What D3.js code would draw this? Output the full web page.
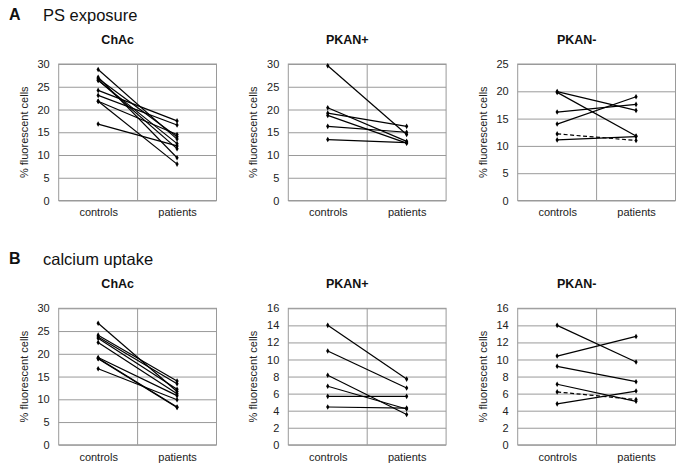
<!DOCTYPE html>
<html>
<head>
<meta charset="utf-8">
<script src="https://cdn.jsdelivr.net/npm/d3@7"></script>
<style>
  html, body { margin: 0; padding: 0; background: #fff; }
  svg { display: block; font-family: "Liberation Sans", Arial, sans-serif; }
</style>
</head>
<body>
<svg id="chart" width="683" height="471"></svg>
<script>
// ---- data ----
const groups = ["controls", "patients"];
const sectionLetters = ["A", "B"];
const sectionTitles = ["PS exposure", "calcium uptake"];
const panelTitles = ["ChAc", "PKAN+", "PKAN-"];
const yAxisLabel = "% fluorescent cells";

const ticks30 = [0, 5, 10, 15, 20, 25, 30];
const ticks25 = [0, 5, 10, 15, 20, 25];
const ticks16 = [0, 2, 4, 6, 8, 10, 12, 14, 16];

// A: PS exposure
const psChAcControls = [28.8, 27.1, 26.8, 26.5, 26.4, 24.2, 23.1, 21.8, 21.8, 16.8];
const psChAcPatients = [13.5, 9.4, 14.0, 11.4, 12.5, 17.5, 16.6, 8.0, 14.5, 12.0];
const psPkanPosControls = [29.6, 20.4, 19.2, 18.7, 16.3, 13.4];
const psPkanPosPatients = [14.5, 13.0, 16.3, 12.6, 15.0, 12.7];
const psPkanNegControls = [19.95, 19.8, 16.2, 14.0, 12.2, 11.1];
const psPkanNegPatients = [16.5, 11.8, 17.6, 19.0, 11.0, 11.7];
const psPkanNegDashed = [false, false, false, false, true, false];

// B: calcium uptake
const caChAcControls = [26.7, 24.1, 23.7, 23.4, 22.5, 19.2, 19.0, 18.9, 16.7];
const caChAcPatients = [11.7, 14.0, 13.4, 12.2, 11.2, 10.8, 8.3, 8.2, 9.9];
const caPkanPosControls = [14.0, 11.0, 8.15, 6.86, 5.68, 4.43];
const caPkanPosPatients = [7.7, 6.66, 3.56, 4.2, 5.68, 4.3];
const caPkanNegControls = [14.0, 10.4, 9.2, 7.1, 6.2, 4.8];
const caPkanNegPatients = [9.7, 12.7, 7.4, 5.1, 5.3, 6.3];
const caPkanNegDashed = [false, false, false, false, true, false];

// ---- layout ----
const svg = d3.select("#chart");
svg.append("rect").attr("width", 683).attr("height", 471).attr("fill", "#fff");

const colLefts = [58.7, 288.3, 517.7];
const rowTops = [64, 308.3];
const plotW = 157.8;
const plotH = 136.5;
const gridColor = "#9a9a9a";

const panels = [
  { row: 0, col: 0, c: psChAcControls, p: psChAcPatients, ticks: ticks30 },
  { row: 0, col: 1, c: psPkanPosControls, p: psPkanPosPatients, ticks: ticks30 },
  { row: 0, col: 2, c: psPkanNegControls, p: psPkanNegPatients, ticks: ticks25, dashed: psPkanNegDashed },
  { row: 1, col: 0, c: caChAcControls, p: caChAcPatients, ticks: ticks30 },
  { row: 1, col: 1, c: caPkanPosControls, p: caPkanPosPatients, ticks: ticks16 },
  { row: 1, col: 2, c: caPkanNegControls, p: caPkanNegPatients, ticks: ticks16, dashed: caPkanNegDashed }
];

// section headers
sectionLetters.forEach((L, i) => {
  const base = i === 0 ? 19.5 : 263.5;
  svg.append("text").attr("x", 9).attr("y", base)
    .attr("font-size", 16).attr("font-weight", "bold").attr("fill", "#111").text(L);
  svg.append("text").attr("x", 43).attr("y", base + 1)
    .attr("font-size", 16.5).attr("fill", "#111").text(sectionTitles[i]);
});

panels.forEach(pn => {
  const left = colLefts[pn.col];
  const top = rowTops[pn.row];
  const g = svg.append("g").attr("transform", `translate(${left},${top})`);
  const yMax = pn.ticks[pn.ticks.length - 1];

  const x = d3.scalePoint().domain(groups).range([0, plotW]).padding(0.5);
  const y = d3.scaleLinear().domain([0, yMax]).range([plotH, 0]);

  // horizontal gridlines
  const grid = g.append("g").call(
    d3.axisLeft(y).tickValues(pn.ticks).tickSize(-plotW).tickFormat("")
  );
  grid.select(".domain").remove();
  grid.selectAll("line").attr("stroke", gridColor).attr("stroke-width", 1);

  // middle vertical divider
  g.append("line")
    .attr("x1", plotW / 2).attr("x2", plotW / 2)
    .attr("y1", 0).attr("y2", plotH)
    .attr("stroke", gridColor).attr("stroke-width", 1);

  // border
  g.append("rect").attr("x", 0).attr("y", 0).attr("width", plotW).attr("height", plotH)
    .attr("fill", "none").attr("stroke", gridColor).attr("stroke-width", 1);

  // y tick labels
  const ya = g.append("g").call(
    d3.axisLeft(y).tickValues(pn.ticks).tickSize(0).tickPadding(9).tickFormat(d3.format("d"))
  );
  ya.select(".domain").remove();
  ya.selectAll("text").attr("font-size", 11).attr("fill", "#222")
    .attr("font-family", "Liberation Sans, Arial, sans-serif");

  // x labels
  const xa = g.append("g").attr("transform", `translate(0,${plotH})`).call(
    d3.axisBottom(x).tickSize(0).tickPadding(8)
  );
  xa.select(".domain").remove();
  xa.selectAll("text").attr("font-size", 11).attr("fill", "#222")
    .attr("font-family", "Liberation Sans, Arial, sans-serif");

  // y axis label
  g.append("text")
    .attr("transform", `translate(-31,${plotH / 2}) rotate(-90)`)
    .attr("text-anchor", "middle").attr("font-size", 11).attr("fill", "#222")
    .text(yAxisLabel);

  // panel title
  g.append("text")
    .attr("x", 59).attr("y", -20)
    .attr("text-anchor", "middle").attr("font-size", 12.5).attr("font-weight", "bold")
    .attr("fill", "#111").text(panelTitles[pn.col]);

  // lines
  const line = d3.line().x(d => x(d.g)).y(d => y(d.v));
  pn.c.forEach((cv, i) => {
    const pts = [{ g: groups[0], v: cv }, { g: groups[1], v: pn.p[i] }];
    const dashed = pn.dashed && pn.dashed[i];
    g.append("path").attr("d", line(pts))
      .attr("fill", "none").attr("stroke", "#000").attr("stroke-width", 1.2)
      .attr("stroke-dasharray", dashed ? "4,2.5" : null);
    pts.forEach(pt => {
      g.append("path")
        .attr("d", d3.symbol().type(d3.symbolDiamond).size(9)())
        .attr("transform", `translate(${x(pt.g)},${y(pt.v)})`)
        .attr("fill", "#000");
    });
  });
});
</script>
</body>
</html>
